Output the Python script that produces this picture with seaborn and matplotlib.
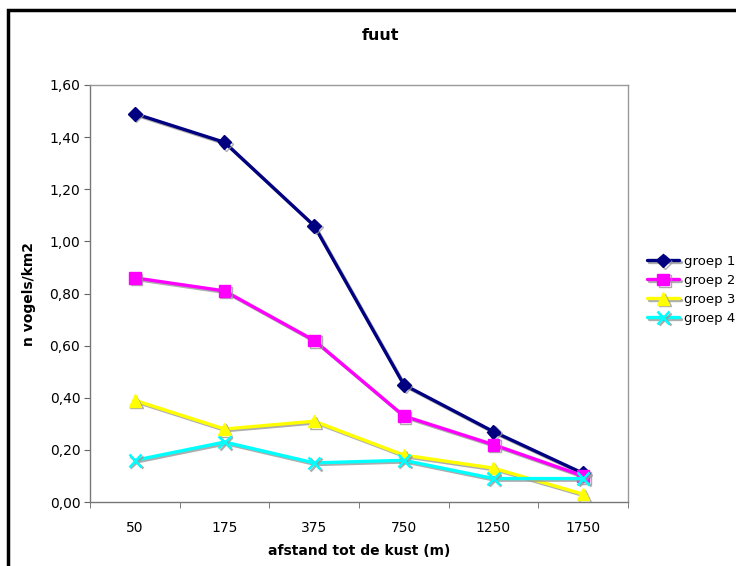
import numpy as np
import pandas as pd
import matplotlib
matplotlib.use("Agg")
import matplotlib.pyplot as plt
import matplotlib.patheffects as pe
from matplotlib.patches import Rectangle
from matplotlib.ticker import FuncFormatter, FixedLocator
import seaborn as sns

# data
afstanden = ["50", "175", "375", "750", "1250", "1750"]
groep_1 = [1.49, 1.38, 1.06, 0.45, 0.27, 0.11]
groep_2 = [0.86, 0.81, 0.62, 0.33, 0.22, 0.10]
groep_3 = [0.39, 0.28, 0.31, 0.18, 0.13, 0.03]
groep_4 = [0.16, 0.23, 0.15, 0.16, 0.09, 0.09]
groep_namen = ["groep 1", "groep 2", "groep 3", "groep 4"]

kleuren = ["#000080", "#FF00FF", "#FFFF00", "#00FFFF"]
markers = ["D", "s", "^", "x"]
msizes = [7, 8.5, 9, 9]

rows = []
for naam, waarden in zip(groep_namen, [groep_1, groep_2, groep_3, groep_4]):
    for i, (a, v) in enumerate(zip(afstanden, waarden)):
        rows.append({"pos": i, "afstand": a, "groep": naam, "n": v})
df = pd.DataFrame(rows)

sns.set_style("white")
plt.rcParams["font.family"] = ["DejaVu Sans"]
plt.rcParams["text.color"] = "black"
plt.rcParams["axes.labelcolor"] = "black"
plt.rcParams["xtick.color"] = "black"
plt.rcParams["ytick.color"] = "black"

fig = plt.figure(figsize=(7.36, 5.66), dpi=100)
ax = fig.add_axes([90 / 736, 1 - 502 / 566, (628 - 90) / 736, (502 - 85) / 566])

shadow = [pe.SimpleLineShadow(offset=(1.2, -1.2), shadow_color="#999999", alpha=0.8), pe.Normal()]

for naam, kleur, m, ms in zip(groep_namen, kleuren, markers, msizes):
    sub = df[df["groep"] == naam]
    sns.lineplot(data=sub, x="pos", y="n", ax=ax, color=kleur, marker=m,
                 markersize=ms, markeredgecolor=kleur, markeredgewidth=1.8 if m == "x" else 1,
                 linewidth=2.4, label=naam, path_effects=shadow)

ax.set_xlim(-0.5, len(afstanden) - 0.5)
ax.set_ylim(0, 1.6)
ax.set_xticks(range(len(afstanden)))
ax.set_xticklabels(afstanden)
ax.xaxis.set_minor_locator(FixedLocator(np.arange(-0.5, len(afstanden), 1.0)))
ax.tick_params(axis="x", which="major", length=0, pad=14, labelsize=10)
ax.tick_params(axis="x", which="minor", length=4, direction="out", color="#666666", bottom=True)
ax.set_yticks(np.arange(0, 1.61, 0.2))
ax.yaxis.set_major_formatter(FuncFormatter(lambda v, p: f"{v:.2f}".replace(".", ",")))
ax.tick_params(axis="y", length=4, direction="out", color="#666666", left=True, labelsize=10, pad=3)

for s in ["top", "right"]:
    ax.spines[s].set_color("#999999")
    ax.spines[s].set_linewidth(1)
for s in ["left", "bottom"]:
    ax.spines[s].set_color("#777777")
    ax.spines[s].set_linewidth(1)

ax.set_xlabel("afstand tot de kust (m)", fontsize=10, fontweight="bold", labelpad=6)
ax.set_ylabel("n vogels/km2", fontsize=10, fontweight="bold", labelpad=10)

fig.text(380 / 736, 1 - 36 / 566, "fuut", ha="center", va="center", fontsize=11.5, fontweight="bold")

ax.legend(loc="center left", bbox_to_anchor=(642 / 736, 1 - 290 / 566), bbox_transform=fig.transFigure,
          frameon=False, fontsize=9.5, handlelength=2.4, handletextpad=0.35, labelspacing=0.45,
          borderaxespad=0)

# black chart border, cut off at right and bottom like the reference
fig.patches.append(Rectangle((8 / 736, -0.1), 1.2, 1 - 10 / 566 + 0.1, transform=fig.transFigure,
                             fill=False, edgecolor="black", linewidth=2.5))

fig.savefig("out.png", dpi=100)
